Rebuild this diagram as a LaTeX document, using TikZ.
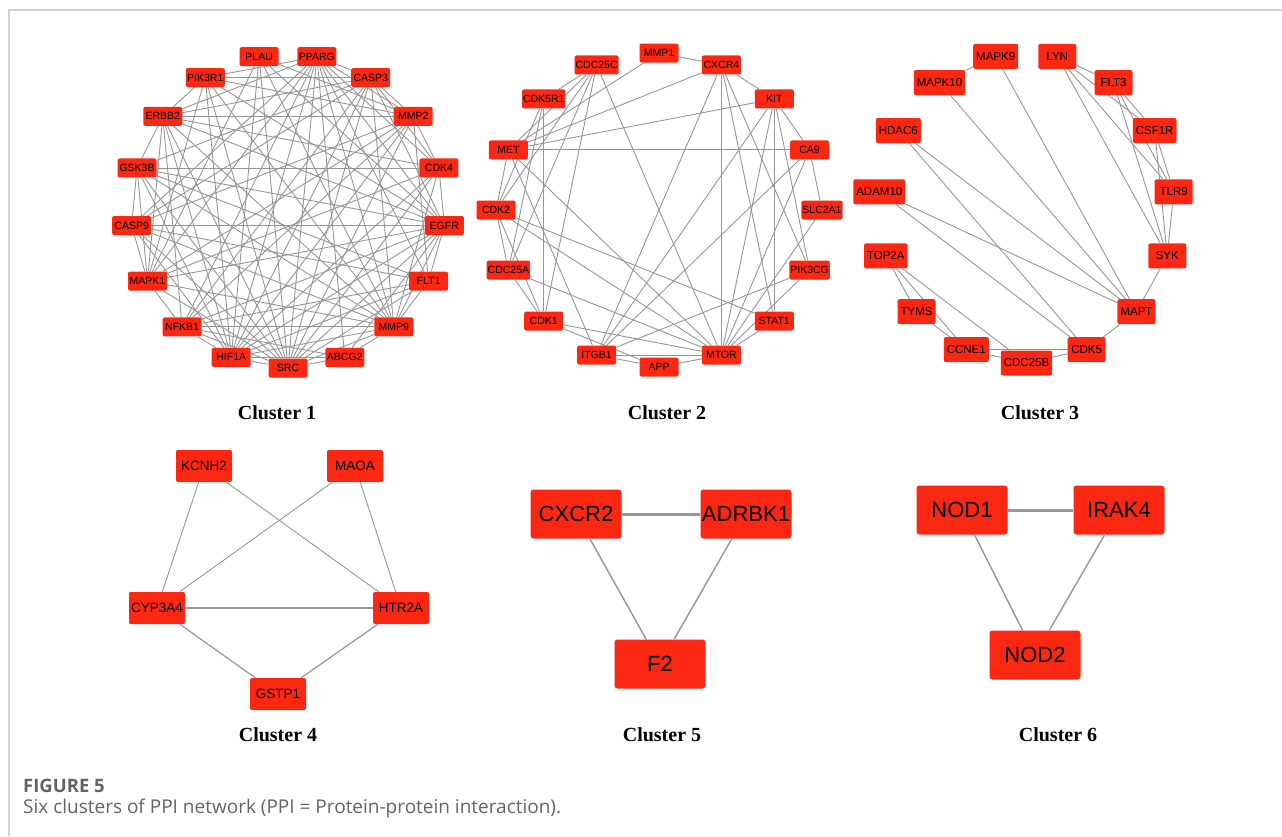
\documentclass[tikz,border=0pt]{standalone}
\usepackage{fontspec}
\setmainfont{Liberation Serif}
\setsansfont{Liberation Sans}
\newfontfamily\capfont{Open Sans}
\usetikzlibrary{backgrounds}
\definecolor{genered}{RGB}{250,40,18}
\definecolor{linkgray}{RGB}{150,150,150}
\definecolor{framegray}{RGB}{210,210,210}
\definecolor{capgray}{RGB}{100,100,100}
\tikzset{
  gene/.style={fill=genered, rounded corners=2pt, inner sep=1pt,
    minimum width=39, minimum height=19,
    font=\sffamily\fontsize{10.5}{10.5}\selectfont},
  genemid/.style={gene, minimum width=38, minimum height=25, inner xsep=3pt,
    font=\sffamily\fontsize{11.5}{11.5}\selectfont},
  genebig/.style={gene, minimum width=56, minimum height=32,
    font=\sffamily\fontsize{13.5}{13.5}\selectfont},
  genehuge/.style={gene, rounded corners=3pt, minimum width=91, minimum height=49,
    font=\sffamily\fontsize{22}{22}\selectfont},
  link/.style={draw=linkgray, line width=0.9},
  clabel/.style={font=\bfseries\fontsize{20}{20}\selectfont},
}
\begin{document}
\begin{tikzpicture}[x=1pt, y=-1pt]
  \useasboundingbox (0,0) rectangle (1282,836);
  \draw[framegray, line width=1.3] (9,836) |- (1282,10);

  % Cluster 1
  \begin{scope}[shift={(288,211)}]
    \node[gene] (src) at (90:157) {SRC};
    \node[gene] (abcg2) at (68.8:157) {ABCG2};
    \node[gene] (mmp9) at (47.6:157) {MMP9};
    \node[gene] (flt1) at (26.5:157) {FLT1};
    \node[gene] (egfr) at (5.3:157) {EGFR};
    \node[gene] (cdk4) at (-15.9:157) {CDK4};
    \node[gene] (mmp2) at (-37.1:157) {MMP2};
    \node[gene] (casp3) at (-58.2:157) {CASP3};
    \node[gene] (pparg) at (-79.4:157) {PPARG};
    \node[gene] (plau) at (-100.6:157) {PLAU};
    \node[gene] (pik3r1) at (-121.8:157) {PIK3R1};
    \node[gene] (erbb2) at (-142.9:157) {ERBB2};
    \node[gene] (gsk3b) at (-164.1:157) {GSK3B};
    \node[gene] (casp9) at (174.7:157) {CASP9};
    \node[gene] (mapk1) at (153.5:157) {MAPK1};
    \node[gene] (nfkb1) at (132.4:157) {NFKB1};
    \node[gene] (hif1a) at (111.2:157) {HIF1A};
  \end{scope}
  \begin{scope}[on background layer]
    \foreach \a/\others in {
        src/{abcg2,mmp9,flt1,egfr,cdk4,mmp2,casp3,pparg,plau,pik3r1,erbb2,gsk3b,casp9,mapk1,nfkb1,hif1a},
        abcg2/{mmp9,egfr,pparg,nfkb1,hif1a},
        mmp9/{flt1,egfr,cdk4,casp3,pparg,plau,pik3r1,erbb2,gsk3b,casp9,mapk1,nfkb1,hif1a},
        flt1/{egfr,mmp2,pparg,gsk3b,casp9,nfkb1,hif1a},
        egfr/{cdk4,casp3,pparg,plau,pik3r1,erbb2,gsk3b,casp9,mapk1,nfkb1,hif1a},
        cdk4/{mmp2,casp3,pparg,erbb2,gsk3b,mapk1,hif1a},
        mmp2/{casp3,pparg,plau,pik3r1,erbb2,casp9,mapk1,nfkb1,hif1a},
        casp3/{pparg,pik3r1,erbb2,gsk3b,casp9,nfkb1,hif1a},
        pparg/{pik3r1,erbb2,casp9,mapk1,nfkb1,hif1a},
        plau/{mapk1,hif1a},
        pik3r1/{erbb2,mapk1,hif1a},
        erbb2/{gsk3b,mapk1,nfkb1,hif1a},
        gsk3b/{casp9,mapk1,hif1a},
        casp9/{mapk1,hif1a},
        mapk1/{nfkb1},
        nfkb1/{hif1a}}
      \foreach \b in \others \draw[link] (\a) -- (\b);
  \end{scope}
  \node[clabel] (lab1) at (277,413) {Cluster 1};

  % Cluster 2
  \begin{scope}[shift={(659,210)}]
    \node[gene] (mmp1) at (-90:163 and 157) {MMP1};
    \node[gene] (cxcr4) at (-67.5:163 and 157) {CXCR4};
    \node[gene] (kit) at (-45:163 and 157) {KIT};
    \node[gene] (ca9) at (-22.5:163 and 157) {CA9};
    \node[gene] (slc2a1) at (0:163 and 157) {SLC2A1};
    \node[gene] (pik3cg) at (22.5:163 and 157) {PIK3CG};
    \node[gene] (stat1) at (45:163 and 157) {STAT1};
    \node[gene] (mtor) at (67.5:163 and 157) {MTOR};
    \node[gene] (app) at (90:163 and 157) {APP};
    \node[gene] (itgb1) at (112.5:163 and 157) {ITGB1};
    \node[gene] (cdk1) at (135:163 and 157) {CDK1};
    \node[gene] (cdc25a) at (157.5:163 and 157) {CDC25A};
    \node[gene] (cdk2) at (180:163 and 157) {CDK2};
    \node[gene] (met) at (202.5:163 and 157) {MET};
    \node[gene] (cdk5r1) at (225:163 and 157) {CDK5R1};
    \node[gene] (cdc25c) at (247.5:163 and 157) {CDC25C};
  \end{scope}
  \begin{scope}[on background layer]
    \foreach \a/\others in {
        mmp1/{cxcr4,met},
        cxcr4/{kit,met,mtor,itgb1,stat1,pik3cg},
        cdc25c/{cdk5r1,met,cdk2,cdc25a,cdk1,mtor},
        cdk5r1/{cdk1,cdk2,cdc25a},
        kit/{met,ca9,stat1,itgb1,mtor,pik3cg},
        met/{ca9,cdk2,mtor,itgb1},
        ca9/{slc2a1,itgb1,mtor},
        slc2a1/{mtor},
        pik3cg/{itgb1,mtor},
        stat1/{mtor,cdk2},
        cdk2/{mtor,cdc25a,cdk1},
        cdc25a/{mtor,cdk1},
        cdk1/{mtor,app},
        itgb1/{app,mtor},
        app/{mtor}}
      \foreach \b in \others \draw[link] (\a) -- (\b);
  \end{scope}
  \node[clabel] (lab2) at (667,413) {Cluster 2};

  % Cluster 3
  \begin{scope}[shift={(1026.5,208)}]
    \node[genemid] (cdc25b) at (90:148 and 155) {CDC25B};
    \node[genemid] (cdk5) at (66:148 and 155) {CDK5};
    \node[genemid] (mapt) at (42:148 and 155) {MAPT};
    \node[genemid] (syk) at (18:148 and 155) {SYK};
    \node[genemid] (tlr9) at (-6:148 and 155) {TLR9};
    \node[genemid] (csf1r) at (-30:148 and 155) {CSF1R};
    \node[genemid] (flt3) at (-54:148 and 155) {FLT3};
    \node[genemid] (lyn) at (-78:148 and 155) {LYN};
    \node[genemid] (mapk9) at (-102:148 and 155) {MAPK9};
    \node[genemid] (mapk10) at (-126:148 and 155) {MAPK10};
    \node[genemid] (hdac6) at (-150:148 and 155) {HDAC6};
    \node[genemid] (adam10) at (-174:148 and 155) {ADAM10};
    \node[genemid] (top2a) at (162:148 and 155) {TOP2A};
    \node[genemid] (tyms) at (138:148 and 155) {TYMS};
    \node[genemid] (ccne1) at (114:148 and 155) {CCNE1};
  \end{scope}
  \begin{scope}[on background layer]
    \foreach \a/\others in {
        mapk9/{mapk10,mapt},
        mapk10/{mapt},
        hdac6/{mapt,cdk5},
        adam10/{mapt,cdk5},
        top2a/{tyms,ccne1,cdc25b},
        tyms/{ccne1},
        ccne1/{cdc25b,cdk5},
        cdc25b/{cdk5},
        cdk5/{mapt},
        mapt/{syk},
        lyn/{flt3,csf1r,tlr9,syk},
        flt3/{csf1r,tlr9,syk},
        csf1r/{tlr9,syk},
        tlr9/{syk}}
      \foreach \b in \others \draw[link] (\a) -- (\b);
  \end{scope}
  \node[clabel] (lab3) at (1040,413) {Cluster 3};

  % Cluster 4
  \node[genebig] (kcnh2) at (204,466) {KCNH2};
  \node[genebig] (maoa) at (355,466) {MAOA};
  \node[genebig] (cyp3a4) at (157,608) {CYP3A4};
  \node[genebig] (htr2a) at (401,608) {HTR2A};
  \node[genebig] (gstp1) at (278,694) {GSTP1};
  \draw[link] (kcnh2) -- (cyp3a4);
  \draw[link] (kcnh2) -- (htr2a);
  \draw[link] (maoa) -- (cyp3a4);
  \draw[link] (maoa) -- (htr2a);
  \draw[link, line width=2] (cyp3a4) -- (htr2a);
  \draw[link, line width=1.2] (cyp3a4) -- (gstp1);
  \draw[link, line width=1.2] (htr2a) -- (gstp1);
  \node[clabel] (lab4) at (278,735) {Cluster 4};

  % Cluster 5
  \node[genehuge] (cxcr2) at (576,514) {CXCR2};
  \node[genehuge] (adrbk1) at (746,514) {ADRBK1};
  \node[genehuge] (f2) at (660,664) {F2};
  \draw[link, line width=3] (cxcr2) -- (adrbk1);
  \draw[link, line width=1.4] (cxcr2) -- (f2);
  \draw[link, line width=1.4] (adrbk1) -- (f2);
  \node[clabel] (lab5) at (662,735) {Cluster 5};

  % Cluster 6
  \node[genehuge] (nod1) at (962,510) {NOD1};
  \node[genehuge] (irak4) at (1119,510) {IRAK4};
  \node[genehuge] (nod2) at (1035,655) {NOD2};
  \draw[link, line width=3] (nod1) -- (irak4);
  \draw[link, line width=1.4] (nod1) -- (nod2);
  \draw[link, line width=1.4] (irak4) -- (nod2);
  \node[clabel] (lab6) at (1058,735) {Cluster 6};

  % caption
  \node[anchor=base west, inner sep=0, text=capgray, font=\capfont\bfseries\fontsize{18.5}{18.5}\selectfont] (figno) at (23,792) {FIGURE 5};
  \node[anchor=base west, inner sep=0, text=capgray, font=\capfont\fontsize{19}{19}\selectfont] (figcap) at (23,813) {Six clusters of PPI network (PPI = Protein-protein interaction).};
\end{tikzpicture}
\end{document}
